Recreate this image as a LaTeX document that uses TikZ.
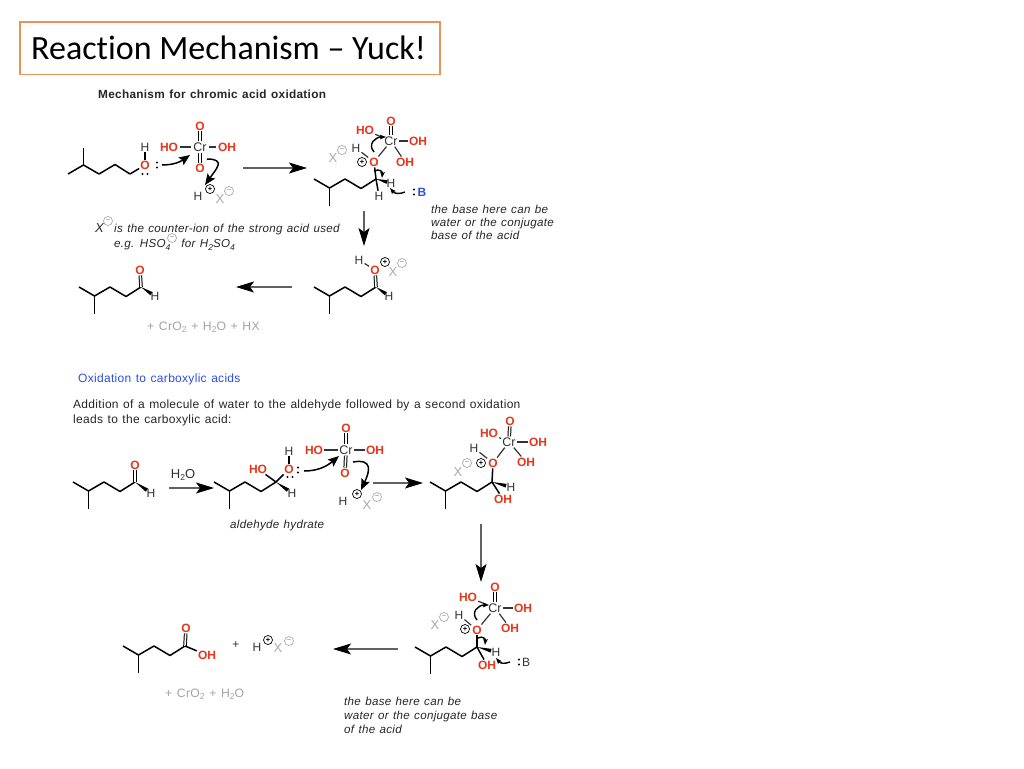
\documentclass[tikz,border=0pt]{standalone}
\usepackage{fontspec}
\setmainfont{Liberation Sans}
\newfontfamily\titlefont[Ligatures=NoCommon]{Carlito}
\newfontfamily\spaced[LetterSpace=2.5,WordSpace=1.25]{Liberation Sans}
\usetikzlibrary{arrows.meta,calc}
\definecolor{chemred}{HTML}{E8351C}
\definecolor{chemblue}{HTML}{2B4FE0}
\definecolor{xgray}{HTML}{ABABAB}
\definecolor{plusgray}{HTML}{A3A3A3}
\definecolor{hgray}{HTML}{333333}
\definecolor{titleline}{HTML}{E8935A}
\tikzset{
 oa/.style={font=\fontsize{12}{12}\selectfont\bfseries,text=chemred,inner sep=1pt},
 ha/.style={font=\fontsize{12}{12}\selectfont,text=hgray,inner sep=1pt},
 cra/.style={font=\fontsize{12.5}{12}\selectfont,text=hgray,inner sep=1pt},
 xa/.style={font=\fontsize{13}{12}\selectfont,text=xgray,inner sep=1pt},
 bond/.style={line width=1.5pt,black},
 thinbond/.style={line width=1.2pt,hgray},
 dblbond/.style={line width=1pt,double,double distance=1.6pt,black},
 curly/.style={line width=1.5pt,black,-{Stealth[length=11pt,width=9pt,inset=2pt]}},
 hook/.style={line width=1.4pt,black,-{Stealth[length=6pt,width=4.5pt,inset=1pt]}},
 rxn/.style={line width=1.2pt,draw=black!62,-{Stealth[length=18pt,width=11pt,inset=4pt,color=black]}},
 ital/.style={font=\spaced\fontsize{11.6}{12}\selectfont\itshape,text=black!85,anchor=base west,inner sep=0pt},
 plain/.style={font=\spaced\fontsize{12}{12}\selectfont,text=black!85,anchor=base west,inner sep=0pt},
 grayt/.style={font=\spaced\fontsize{12.2}{12}\selectfont,text=plusgray,anchor=base west,inner sep=0pt},
}
\newcommand{\sbs}[1]{\raisebox{-2.5pt}{\fontsize{8.5}{8}\selectfont #1}}
\newcommand{\skel}[4]{\begin{scope}[shift={(#2,#3)},yscale=#4]
 \coordinate (#11) at (0,0);\coordinate (#12) at (15.5,9);\coordinate (#1m) at (15.5,26.5);
 \coordinate (#13) at (31,0);\coordinate (#14) at (47,9.5);\coordinate (#15) at (62,0);
 \end{scope}
 \draw[bond,line join=round] (#11)--(#12)--(#13)--(#14)--(#15);\draw[bond] (#12)--(#1m);}
\newcommand{\chargeP}[3]{\node[circle,draw=black,line width=.7pt,minimum size=9pt,inner sep=0pt,font=\fontsize{7.5}{7}\selectfont\bfseries] (#1) at (#2,#3) {+};}
\newcommand{\chargeN}[3]{\node[circle,draw=xgray,line width=.7pt,minimum size=9pt,inner sep=0pt,text=xgray,font=\fontsize{7.5}{7}\selectfont\bfseries] (#1) at (#2,#3) {−};}
\newcommand{\lpv}[2]{\fill (#1,#2-2.5) circle (1.1pt) (#1,#2+2.5) circle (1.1pt);}
\newcommand{\lph}[2]{\fill (#1-2.5,#2) circle (1.1pt) (#1+2.5,#2) circle (1.1pt);}
\newcommand{\rxnarrow}[5]{\coordinate (#1s) at (#2,#3);\coordinate (#1e) at (#4,#5);\draw[rxn] (#1s)--(#1e);}
\newcommand{\boldw}[2]{\path ($(#1)!0.74!(#2)$) coordinate (wt);\fill (#1) -- ($(wt)!1.9pt!90:(#2)$) -- ($(wt)!1.9pt!-90:(#2)$) -- cycle;}
\begin{document}
\begin{tikzpicture}[x=1pt,y=-1pt]
\useasboundingbox (0,0) rectangle (1024,768);
\fill[white] (0,0) rectangle (1024,768);
% title
\node[draw=titleline,line width=1.6pt,minimum width=420pt,minimum height=52pt,inner sep=0pt,anchor=north west] (titlebox) at (19,21.5) {};
\node[font=\titlefont\fontsize{34}{36}\selectfont,text=black,anchor=west,inner sep=0pt] (title) at (31,48) {Reaction Mechanism – Yuck!};
\node[plain,font=\spaced\fontsize{11.8}{12}\selectfont\bfseries] (head1) at (98,98.5) {Mechanism for chromic acid oxidation};

% === structure A
\skel{a}{68}{174}{-1}
\node[oa] (aO) at (145,165) {O};
\node[ha] (aH) at (145,147) {H};
\draw[bond] (a5)--(aO);\draw[bond] (aH)--(aO);
\lpv{157}{165}\lph{145}{174}
\node[cra] (aCr) at (200,147) {Cr};
\node[oa] (aO1) at (200,126) {O};
\node[oa] (aO2) at (200,168) {O};
\node[oa] (aHO) at (169,147) {HO};
\node[oa] (aOH) at (227,147) {OH};
\draw[dblbond] (aCr)--(aO1);\draw[dblbond] (aCr)--(aO2);
\draw[thinbond,shorten <=1pt,shorten >=1pt] (aHO)--(aCr);\draw[thinbond,shorten <=1pt,shorten >=1pt] (aCr)--(aOH);
\coordinate (ac1) at (162,165);\coordinate (ac2) at (190,155);
\draw[curly] (ac1) to[out=0,in=215] (ac2);
\coordinate (ac3) at (207,159);\coordinate (ac4) at (205,185);
\draw[curly] (ac3) to[out=0,in=55,looseness=1.9] (ac4);
\node[ha] (aHp) at (198,196) {H};
\chargeP{aPlus}{210}{189}
\node[xa] (aX) at (220,199) {X};
\chargeN{aMinus}{229}{191}
\rxnarrow{ra}{243}{168}{307}{168}
\node[ital,font=\fontsize{13}{12}\selectfont\itshape] (tX) at (95,232) {X};
\chargeN{tXm}{108}{221}
\node[ital] (t1) at (114,232.5) {is the counter-ion of the strong acid used};
\node[ital] (t2) at (114,247.5) {e.g. HSO\sbs{4}\hspace{11pt}for H\sbs{2}SO\sbs{4}};
\chargeN{t2m}{172}{238}

% === structure B
\skel{b}{314}{179}{1}
\node[oa] (bO) at (374,162) {O};
\draw[bond] (b5)--(bO);
\node[ha] (bH1) at (379,196) {H};
\node[ha] (bH2) at (391,183) {H};
\draw[bond] (b5)--(bH1);\boldw{b5}{bH2}
\node[cra] (bCr) at (391,141) {Cr};
\node[oa] (bO1) at (391,121) {O};
\node[oa] (bHO) at (365,130) {HO};
\node[oa] (bOH) at (418,141) {OH};
\node[oa] (bOH2) at (405,162) {OH};
\draw[dblbond] (bCr)--(bO1);
\draw[thinbond] (bHO)--(bCr);\draw[thinbond] (bCr)--(bOH);\draw[thinbond] (bCr)--(bOH2);\draw[thinbond] (bO)--(bCr);
\node[ha] (bH) at (356,148) {H};
\draw[thinbond] (bH)--(bO);
\node[xa] (bX) at (333,158) {X};
\chargeN{bMinus}{342}{150}
\chargeP{bPlus}{362}{162}
\coordinate (bc1) at (374,152);\coordinate (bc2) at (386,137);
\draw[hook] (bc1) to[out=130,in=180,looseness=1.4] (bc2);
\coordinate (bc3) at (374,171);\coordinate (bc4) at (382,178);
\draw[hook] (bc3) to[out=25,in=85,looseness=1.5] (bc4);
\coordinate (bc5) at (405,192);\coordinate (bc6) at (390,188);
\draw[hook] (bc5) to[out=200,in=-50,looseness=1.2] (bc6);
\lpv{414}{192}
\node[oa,text=chemblue] (bB) at (422,192) {B};
\rxnarrow{rb}{364}{211}{364}{246}
\node[ital] (t3) at (431,213.5) {the base here can be};
\node[ital] (t4) at (431,226.5) {water or the conjugate};
\node[ital] (t5) at (431,239.5) {base of the acid};

% === structure C (protonated)
\skel{c}{314}{287}{1}
\node[oa] (cO) at (375,270) {O};
\node[ha] (cH) at (389,296) {H};
\draw[dblbond] (c5)--(cO);\boldw{c5}{cH}
\node[ha] (cH1) at (359,260) {H};
\draw[thinbond] (cH1)--(cO);
\chargeP{cPlus}{385}{262}
\node[xa] (cX) at (393,272) {X};
\chargeN{cMinus}{402}{263}
\rxnarrow{rc}{292}{287}{236}{287}

% === structure D aldehyde
\skel{d}{79}{287}{1}
\node[oa] (dO) at (140,270) {O};
\node[ha] (dH) at (155,296) {H};
\draw[dblbond] (d5)--(dO);\boldw{d5}{dH}
\node[grayt] (g1) at (147,330) {+ CrO\sbs{2} + H\sbs{2}O + HX};

% === texts
\node[plain,text=chemblue] (t6) at (78,382.5) {Oxidation to carboxylic acids};
\node[plain] (t7) at (73,408.5) {Addition of a molecule of water to the aldehyde followed by a second oxidation};
\node[plain] (t8) at (73,423.5) {leads to the carboxylic acid:};

% === structure E
\skel{e}{73}{482}{1}
\node[oa] (eO) at (135,465) {O};
\node[ha] (eH) at (151,493) {H};
\draw[dblbond] (e5)--(eO);\boldw{e5}{eH}
\node[ha,font=\fontsize{13}{12}\selectfont] (w) at (183,475) {H\sbs{2}O};
\rxnarrow{re}{169}{488}{214}{488}

% === structure F hydrate
\skel{f}{214}{482}{1}
\node[oa] (fHO) at (258,469) {HO};
\node[oa] (fO) at (289,469) {O};
\node[ha] (fH1) at (289,451) {H};
\node[ha] (fH2) at (292,493) {H};
\draw[bond] (f5)--(fHO);\draw[bond] (f5)--(fO);\draw[bond] (fH1)--(fO);\boldw{f5}{fH2}
\lpv{298}{470}\lph{290}{477}
\node[cra] (fCr) at (346,450) {Cr};
\node[oa] (fO1) at (346,428) {O};
\node[oa] (fO2) at (345,473) {O};
\node[oa] (fHOc) at (314,450) {HO};
\node[oa] (fOH) at (375,450) {OH};
\draw[dblbond] (fCr)--(fO1);\draw[dblbond] (fCr)--(fO2);
\draw[thinbond] (fHOc)--(fCr);\draw[thinbond] (fCr)--(fOH);
\coordinate (fc1) at (304,471);\coordinate (fc2) at (339,456);
\draw[curly] (fc1) to[out=0,in=220] (fc2);
\coordinate (fc3) at (353,462);\coordinate (fc4) at (361,490);
\draw[curly] (fc3) to[out=10,in=65,looseness=1.8] (fc4);
\node[ha] (fHp) at (343,501) {H};
\chargeP{fPlus}{357}{494}
\node[xa] (fX) at (367,505) {X};
\chargeN{fMinus}{377}{497}
\rxnarrow{rf}{373}{483}{423}{483}
\node[ital] (t9) at (230,528.5) {aldehyde hydrate};

% === structure G
\skel{g}{430}{482}{1}
\node[oa] (gO) at (493,463) {O};
\node[oa] (gOHb) at (503,499) {OH};
\node[ha] (gH) at (511,487) {H};
\draw[bond] (g5)--(gO);\draw[bond] (g5)--(gOHb);\boldw{g5}{gH}
\node[cra] (gCr) at (509,442) {Cr};
\node[oa] (gO1) at (510,421) {O};
\node[oa] (gHO) at (489,433) {HO};
\node[oa] (gOH) at (538,442) {OH};
\node[oa] (gOH2) at (526,462) {OH};
\draw[dblbond] (gCr)--(gO1);
\draw[thinbond] (gHO)--(gCr);\draw[thinbond] (gCr)--(gOH);\draw[thinbond] (gCr)--(gOH2);\draw[thinbond] (gO)--(gCr);
\node[ha] (gH1) at (474,448) {H};
\draw[thinbond] (gH1)--(gO);
\chargeP{gPlus}{481}{463}
\node[xa] (gX) at (458,472) {X};
\chargeN{gMinus}{467}{463}
\rxnarrow{rg}{481}{524}{481}{582}

% === structure H
\skel{h}{415}{647}{1}
\node[oa] (hO) at (477,630) {O};
\node[oa] (hOHb) at (487,665) {OH};
\node[ha] (hH) at (496,652) {H};
\draw[bond] (h5)--(hO);\draw[bond] (h5)--(hOHb);\boldw{h5}{hH}
\node[cra] (hCr) at (495,608) {Cr};
\node[oa] (hO1) at (495,587) {O};
\node[oa] (hHO) at (468,597) {HO};
\node[oa] (hOH) at (523,608) {OH};
\node[oa] (hOH2) at (510,628) {OH};
\draw[dblbond] (hCr)--(hO1);
\draw[thinbond] (hHO)--(hCr);\draw[thinbond] (hCr)--(hOH);\draw[thinbond] (hCr)--(hOH2);\draw[thinbond] (hO)--(hCr);
\node[ha] (hH1) at (459,615) {H};
\draw[thinbond] (hH1)--(hO);
\node[xa] (hX) at (435,625) {X};
\chargeN{hMinus}{444}{617}
\chargeP{hPlus}{465}{629}
\coordinate (hc1) at (477,620);\coordinate (hc2) at (489,605);
\draw[hook] (hc1) to[out=130,in=180,looseness=1.4] (hc2);
\coordinate (hc3) at (478,638);\coordinate (hc4) at (485,645);
\draw[hook] (hc3) to[out=25,in=85,looseness=1.5] (hc4);
\coordinate (hc5) at (510,662);\coordinate (hc6) at (496,658);
\draw[hook] (hc5) to[out=200,in=-50,looseness=1.2] (hc6);
\lpv{519}{662}
\node[ha] (hB) at (526,662) {B};
\rxnarrow{rh}{398}{649}{333}{649}
\node[ital] (t10) at (344,705.5) {the base here can be};
\node[ital] (t11) at (344,719.5) {water or the conjugate base};
\node[ital] (t12) at (344,733.5) {of the acid};

% === structure I acid
\skel{i}{123}{646}{1}
\node[oa] (iO) at (186,628) {O};
\node[oa] (iOH) at (207,655) {OH};
\draw[dblbond] (i5)--(iO);\draw[bond] (i5)--(iOH);
\node[ha] (iPl) at (236,645) {+};
\node[ha] (iH) at (257,647) {H};
\chargeP{iPlus}{268}{640}
\node[xa] (iX) at (278,648) {X};
\chargeN{iMinus}{289}{641}
\node[grayt] (g2) at (165,697) {+ CrO\sbs{2} + H\sbs{2}O};
\end{tikzpicture}
\end{document}
